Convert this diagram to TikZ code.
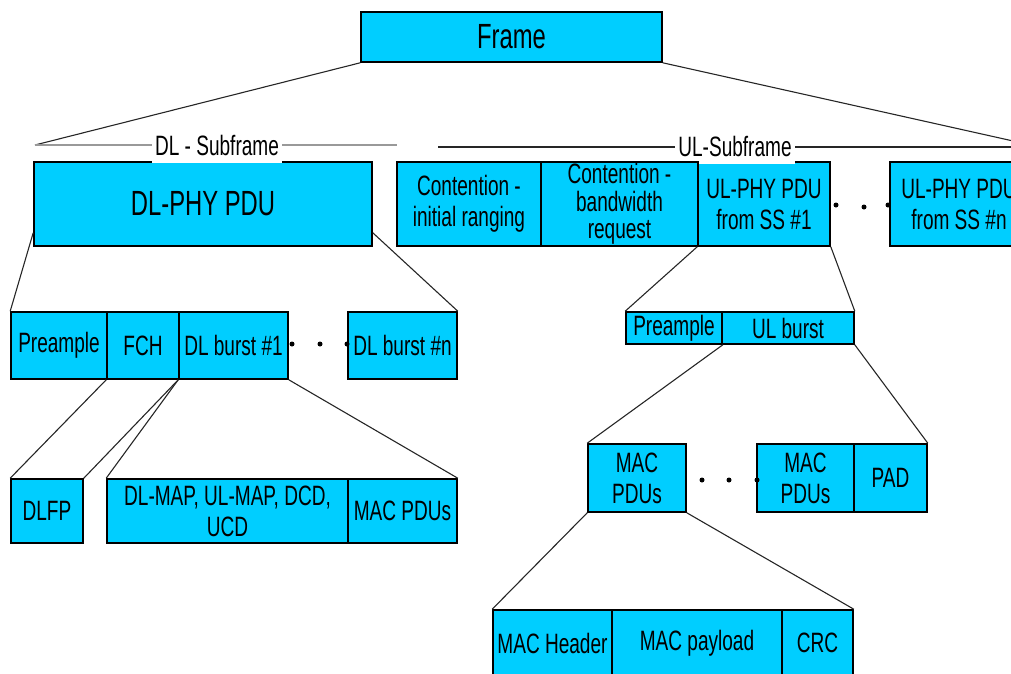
\documentclass[tikz,border=0pt]{standalone}
\usepackage{fontspec}
\setmainfont{Liberation Sans}[FakeStretch=0.68]
\definecolor{boxcyan}{RGB}{0,206,255}
\begin{document}
\begin{tikzpicture}[x=1pt,y=-1pt,
  blk/.style={draw=black,line width=1.6pt,fill=boxcyan,inner sep=0pt,align=center,font=\fontsize{28}{31}\selectfont},
  bigtxt/.style={font=\fontsize{35}{38}\selectfont},
  tighttxt/.style={font=\fontsize{28}{27.5}\selectfont},
  conn/.style={line width=1.1pt,draw=black!85},
  sublbl/.style={fill=white,inner xsep=3pt,inner ysep=0pt,minimum height=36pt,font=\fontsize{28}{31}\selectfont},
  dotn/.style={circle,fill=black,inner sep=0pt,minimum size=5pt}]
\clip (0,0) rectangle (1011,673);
% top level
\node[blk,bigtxt,minimum width=301pt,minimum height=50pt] (frame) at (511.5,37) {Frame};
\node[blk,bigtxt,minimum width=338pt,minimum height=84pt] (dlphy) at (203,204) {DL-PHY PDU};
\node[blk,minimum width=132pt,minimum height=84pt] (s1) at (764,204) {UL-PHY PDU\\from SS \#1};
\node[blk,minimum width=138pt,minimum height=84pt] (sn) at (959,204) {UL-PHY PDU\\from SS \#n};
% subframe lines
\coordinate (dll) at (35,145);
\coordinate (dle) at (397,145);
\coordinate (ull) at (438,147);
\coordinate (ulr) at (1040,147);
\draw[conn] (frame.south west) -- (dll);
\draw[conn] (frame.south east) -- (ulr);
\draw[line width=2pt,draw=black!40] (dll) -- (dle);
\draw[line width=2pt,draw=black!85] (ull) -- (ulr);
\node[sublbl] (dllbl) at (217,145) {DL - Subframe};
\node[sublbl] (ullbl) at (735,146) {UL-Subframe};
% UL first row
\node[blk,minimum width=144pt,minimum height=84pt] (ci) at (469,204) {Contention -\\initial ranging};
\node[blk,tighttxt,minimum width=157pt,minimum height=84pt] (cb) at (619.5,204) {Contention -\\bandwidth\\request};
\node[dotn] (u1) at (836,205) {};
\node[dotn] (u2) at (864,207) {};
\node[dotn] (u3) at (888,205) {};
% DL second row
\node[blk,minimum width=96pt,minimum height=67pt] (pre) at (59,345.5) {Preample};
\node[blk,minimum width=72pt,minimum height=67pt] (fch) at (143,345.5) {FCH};
\node[blk,minimum width=109pt,minimum height=67pt] (b1) at (233.5,345.5) {DL burst \#1};
\node[blk,minimum width=109pt,minimum height=67pt] (bn) at (402.5,345.5) {DL burst \#n};
\node[dotn] (d1) at (292,344) {};
\node[dotn] (d2) at (320,344) {};
\node[dotn] (d3) at (347,344) {};
% DL third row
\node[blk,minimum width=72pt,minimum height=64pt] (dlfp) at (47,511) {DLFP};
\node[blk,minimum width=241pt,minimum height=64pt] (maps) at (227.5,511) {DL-MAP, UL-MAP, DCD,\\UCD};
\node[blk,minimum width=109pt,minimum height=64pt] (macd) at (402.5,511) {MAC PDUs};
% UL second row
\node[blk,minimum width=96pt,minimum height=32pt] (pre2) at (674,328) {Preample};
\node[blk,minimum width=132pt,minimum height=32pt] (ulb) at (788,328) {UL burst};
% UL third row
\node[blk,minimum width=98pt,minimum height=68pt] (mac1) at (637,478) {MAC\\PDUs};
\node[blk,minimum width=97pt,minimum height=68pt] (mac2) at (805.5,478) {MAC\\PDUs};
\node[blk,minimum width=73pt,minimum height=68pt] (pad) at (890.5,478) {PAD};
\node[dotn] (m1) at (702,480) {};
\node[dotn] (m2) at (729,480) {};
\node[dotn] (m3) at (757,480) {};
% UL fourth row
\node[blk,minimum width=119pt,minimum height=66pt] (mh) at (552.5,643) {MAC Header};
\node[blk,minimum width=170pt,minimum height=66pt] (mp) at (697,643) {MAC payload};
\node[blk,minimum width=71pt,minimum height=66pt] (crc) at (817.5,643) {CRC};
% connectors
\draw[conn] ([yshift=14pt]dlphy.south west) -- (pre.north west);
\draw[conn] ([yshift=14pt]dlphy.south east) -- (bn.north east);
\draw[conn] (fch.south west) -- (dlfp.north west);
\draw[conn] (b1.south west) -- (dlfp.north east);
\draw[conn] (b1.south west) -- (maps.north west);
\draw[conn] (b1.south east) -- (macd.north east);
\draw[conn] (s1.south west) -- (pre2.north west);
\draw[conn] (s1.south east) -- (ulb.north east);
\draw[conn] (pre2.south east) -- (mac1.north west);
\draw[conn] (ulb.south east) -- (pad.north east);
\draw[conn] (mac1.south west) -- (mh.north west);
\draw[conn] (mac1.south east) -- (crc.north east);
\end{tikzpicture}
\end{document}
